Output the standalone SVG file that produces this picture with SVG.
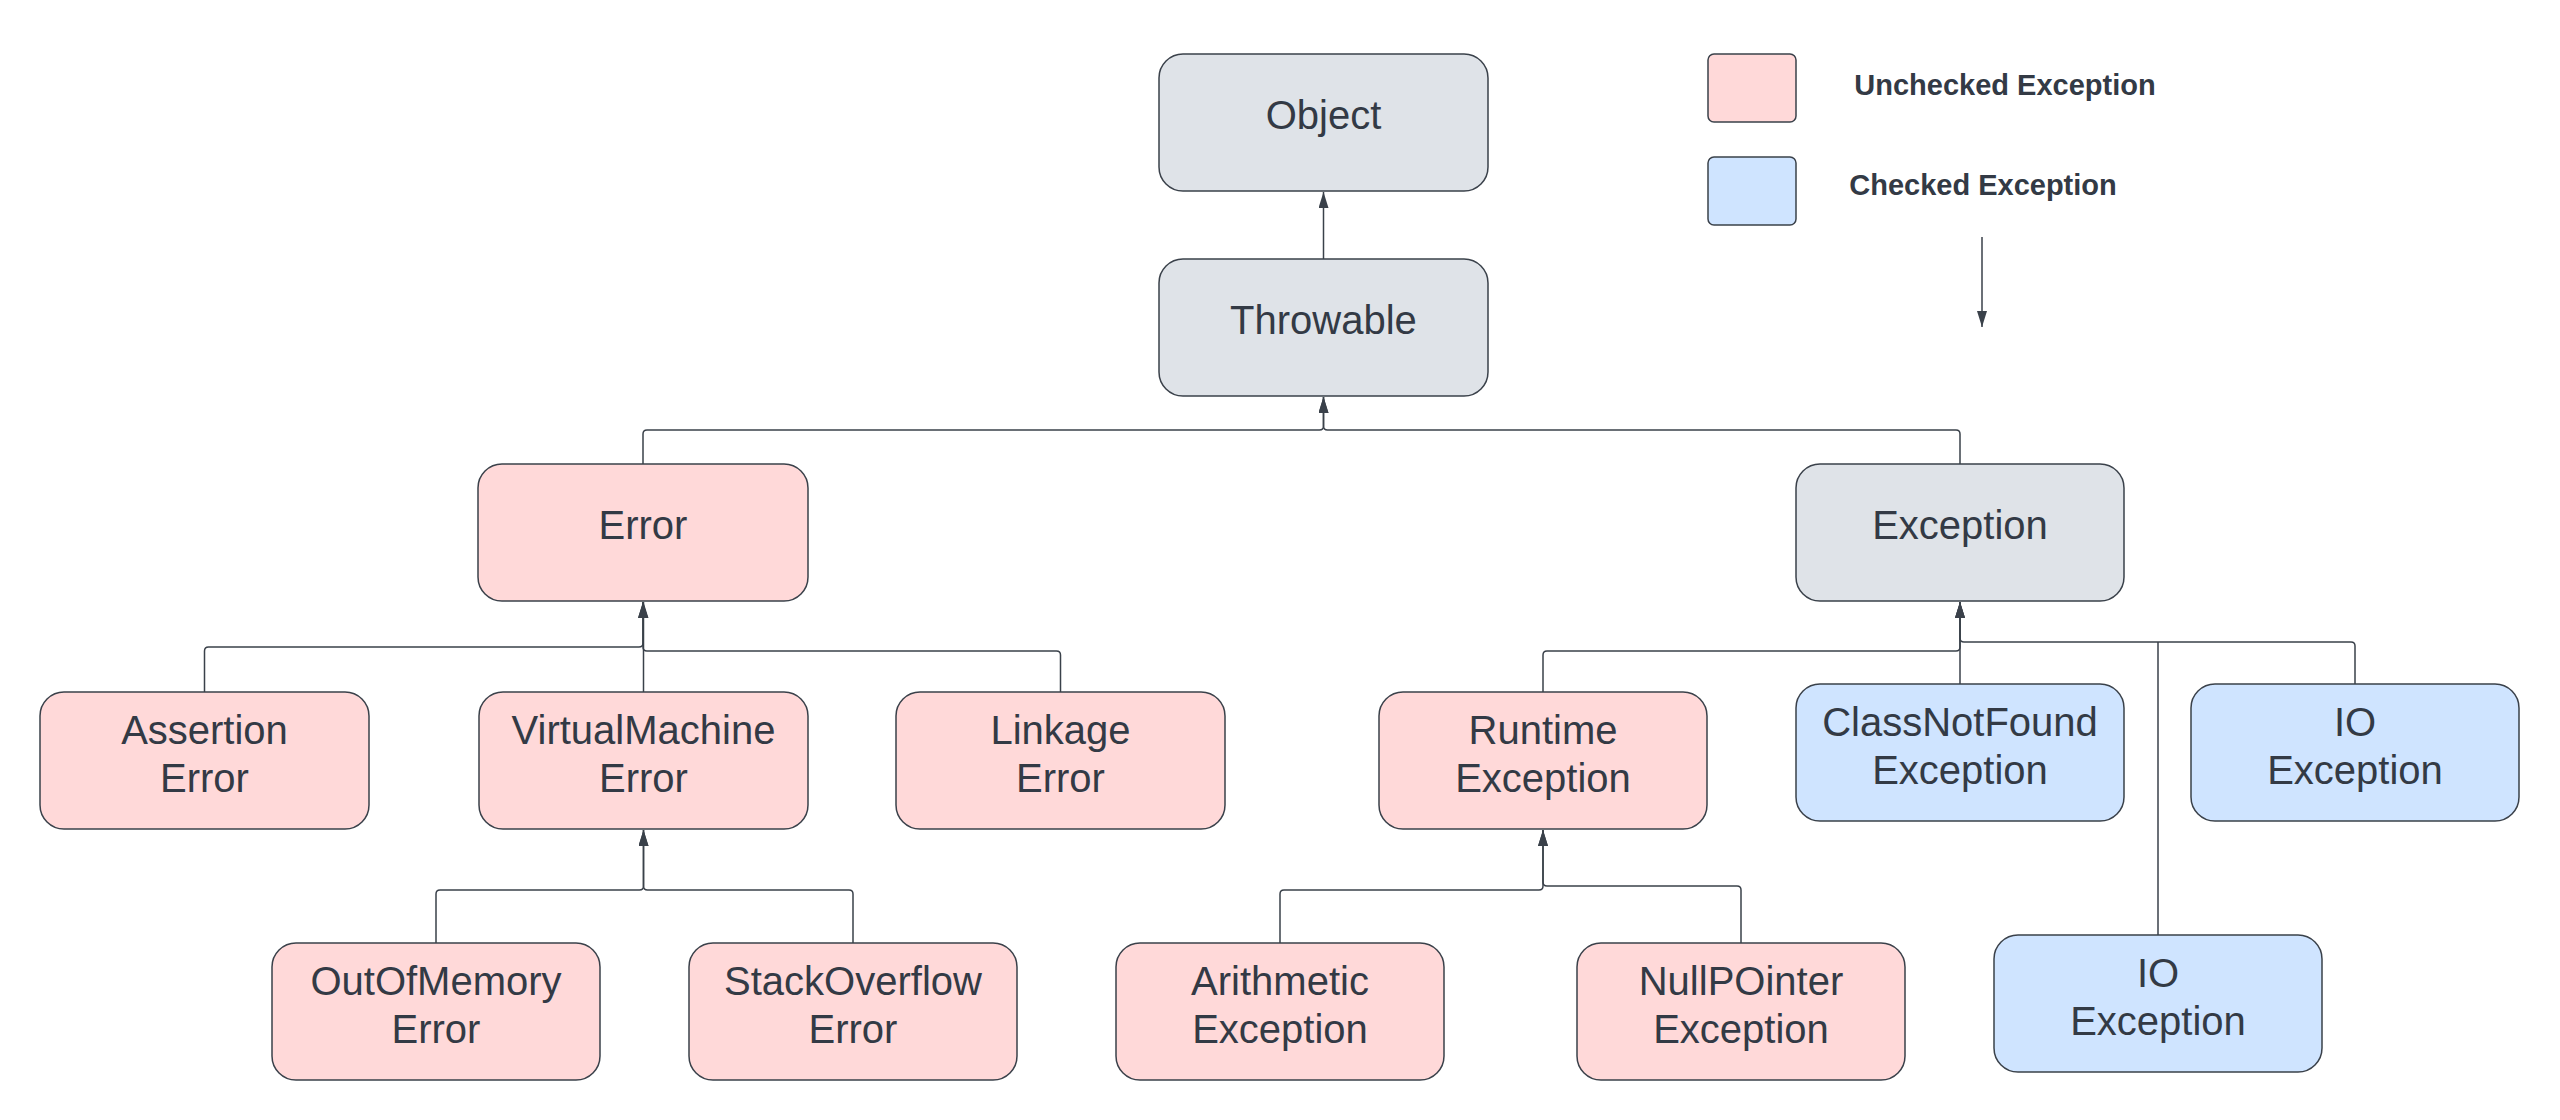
<svg xmlns="http://www.w3.org/2000/svg" width="2560" height="1120" viewBox="0 0 2560 1120">
<style>
.n rect{stroke:#3a414a;stroke-width:1.5}
.gray rect{fill:#dfe3e8}
.pink rect{fill:#ffd9d9}
.blue rect{fill:#cfe4ff}
.n text{font-family:"Liberation Sans",Arial,sans-serif;font-size:40px;fill:#333a45;text-anchor:middle}
.lg{font-family:"Liberation Sans",Arial,sans-serif;font-size:29px;font-weight:bold;fill:#333a45;text-anchor:middle}
.c path{fill:none;stroke:#3a414a;stroke-width:1.5}
</style>
<defs>
<marker id="ah" markerUnits="userSpaceOnUse" markerWidth="18" markerHeight="10" refX="16" refY="5" orient="auto">
<path d="M0,0 L16,5 L0,10 z" fill="#3a414a"/>
</marker>
</defs>
<rect width="2560" height="1120" fill="#ffffff"/>

<g id="legend">
<rect x="1708" y="54" width="88" height="68" rx="6" fill="#ffd9d9" stroke="#3a414a" stroke-width="1.5"/>
<rect x="1708" y="157" width="88" height="68" rx="6" fill="#cfe4ff" stroke="#3a414a" stroke-width="1.5"/>
<text class="lg" x="2005" y="95">Unchecked Exception</text>
<text class="lg" x="1983" y="195">Checked Exception</text>
</g>

<g class="c" id="connectors">
<path d="M1323.5,259 V192" marker-end="url(#ah)"/>
<path d="M643,464 V434 Q643,430 647,430 H1319.5 Q1323.5,430 1323.5,426 V397" marker-end="url(#ah)"/>
<path d="M1960,464 V434 Q1960,430 1956,430 H1327.5 Q1323.5,430 1323.5,426 V397" marker-end="url(#ah)"/>
<path d="M204.5,692 V651 Q204.5,647 208.5,647 H639 Q643,647 643,643 V602" marker-end="url(#ah)"/>
<path d="M643.5,700 V602" marker-end="url(#ah)"/>
<path d="M1060.5,700 V655 Q1060.5,651 1056.5,651 H647 Q643,651 643,647 V602" marker-end="url(#ah)"/>
<path d="M436,951 V894 Q436,890 440,890 H639.5 Q643.5,890 643.5,886 V830" marker-end="url(#ah)"/>
<path d="M853,951 V894 Q853,890 849,890 H647.5 Q643.5,890 643.5,886 V830" marker-end="url(#ah)"/>
<path d="M1280,951 V894 Q1280,890 1284,890 H1539 Q1543,890 1543,886 V830" marker-end="url(#ah)"/>
<path d="M1741,943 V890 Q1741,886 1737,886 H1547 Q1543,886 1543,882 V830" marker-end="url(#ah)"/>
<path d="M1543,700 V655 Q1543,651 1547,651 H1956 Q1960,651 1960,647 V602" marker-end="url(#ah)"/>
<path d="M1960,684 V602" marker-end="url(#ah)"/>
<path d="M2355,684 V646 Q2355,642 2351,642 H1964 Q1960,642 1960,638 V602" marker-end="url(#ah)"/>
<path d="M2158,943 V642"/>
<path d="M1982,237 V327" marker-end="url(#ah)"/>
</g>

<g id="object" class="n gray"><rect x="1159" y="54" width="329" height="137" rx="24"/><text x="1323.5" y="129">Object</text></g>
<g id="throwable" class="n gray"><rect x="1159" y="259" width="329" height="137" rx="24"/><text x="1323.5" y="334">Throwable</text></g>
<g id="error" class="n pink"><rect x="478" y="464" width="330" height="137" rx="24"/><text x="643" y="539">Error</text></g>
<g id="exception" class="n gray"><rect x="1796" y="464" width="328" height="137" rx="24"/><text x="1960" y="539">Exception</text></g>
<g id="assertion-error" class="n pink"><rect x="40" y="692" width="329" height="137" rx="24"/><text x="204.5" y="744">Assertion</text><text x="204.5" y="792">Error</text></g>
<g id="vm-error" class="n pink"><rect x="479" y="692" width="329" height="137" rx="24"/><text x="643.5" y="744">VirtualMachine</text><text x="643.5" y="792">Error</text></g>
<g id="linkage-error" class="n pink"><rect x="896" y="692" width="329" height="137" rx="24"/><text x="1060.5" y="744">Linkage</text><text x="1060.5" y="792">Error</text></g>
<g id="runtime-exception" class="n pink"><rect x="1379" y="692" width="328" height="137" rx="24"/><text x="1543" y="744">Runtime</text><text x="1543" y="792">Exception</text></g>
<g id="classnotfound-exception" class="n blue"><rect x="1796" y="684" width="328" height="137" rx="24"/><text x="1960" y="736">ClassNotFound</text><text x="1960" y="784">Exception</text></g>
<g id="io-exception-1" class="n blue"><rect x="2191" y="684" width="328" height="137" rx="24"/><text x="2355" y="736">IO</text><text x="2355" y="784">Exception</text></g>
<g id="outofmemory-error" class="n pink"><rect x="272" y="943" width="328" height="137" rx="24"/><text x="436" y="995">OutOfMemory</text><text x="436" y="1043">Error</text></g>
<g id="stackoverflow-error" class="n pink"><rect x="689" y="943" width="328" height="137" rx="24"/><text x="853" y="995">StackOverflow</text><text x="853" y="1043">Error</text></g>
<g id="arithmetic-exception" class="n pink"><rect x="1116" y="943" width="328" height="137" rx="24"/><text x="1280" y="995">Arithmetic</text><text x="1280" y="1043">Exception</text></g>
<g id="nullpointer-exception" class="n pink"><rect x="1577" y="943" width="328" height="137" rx="24"/><text x="1741" y="995">NullPOinter</text><text x="1741" y="1043">Exception</text></g>
<g id="io-exception-2" class="n blue"><rect x="1994" y="935" width="328" height="137" rx="24"/><text x="2158" y="987">IO</text><text x="2158" y="1035">Exception</text></g>
</svg>
